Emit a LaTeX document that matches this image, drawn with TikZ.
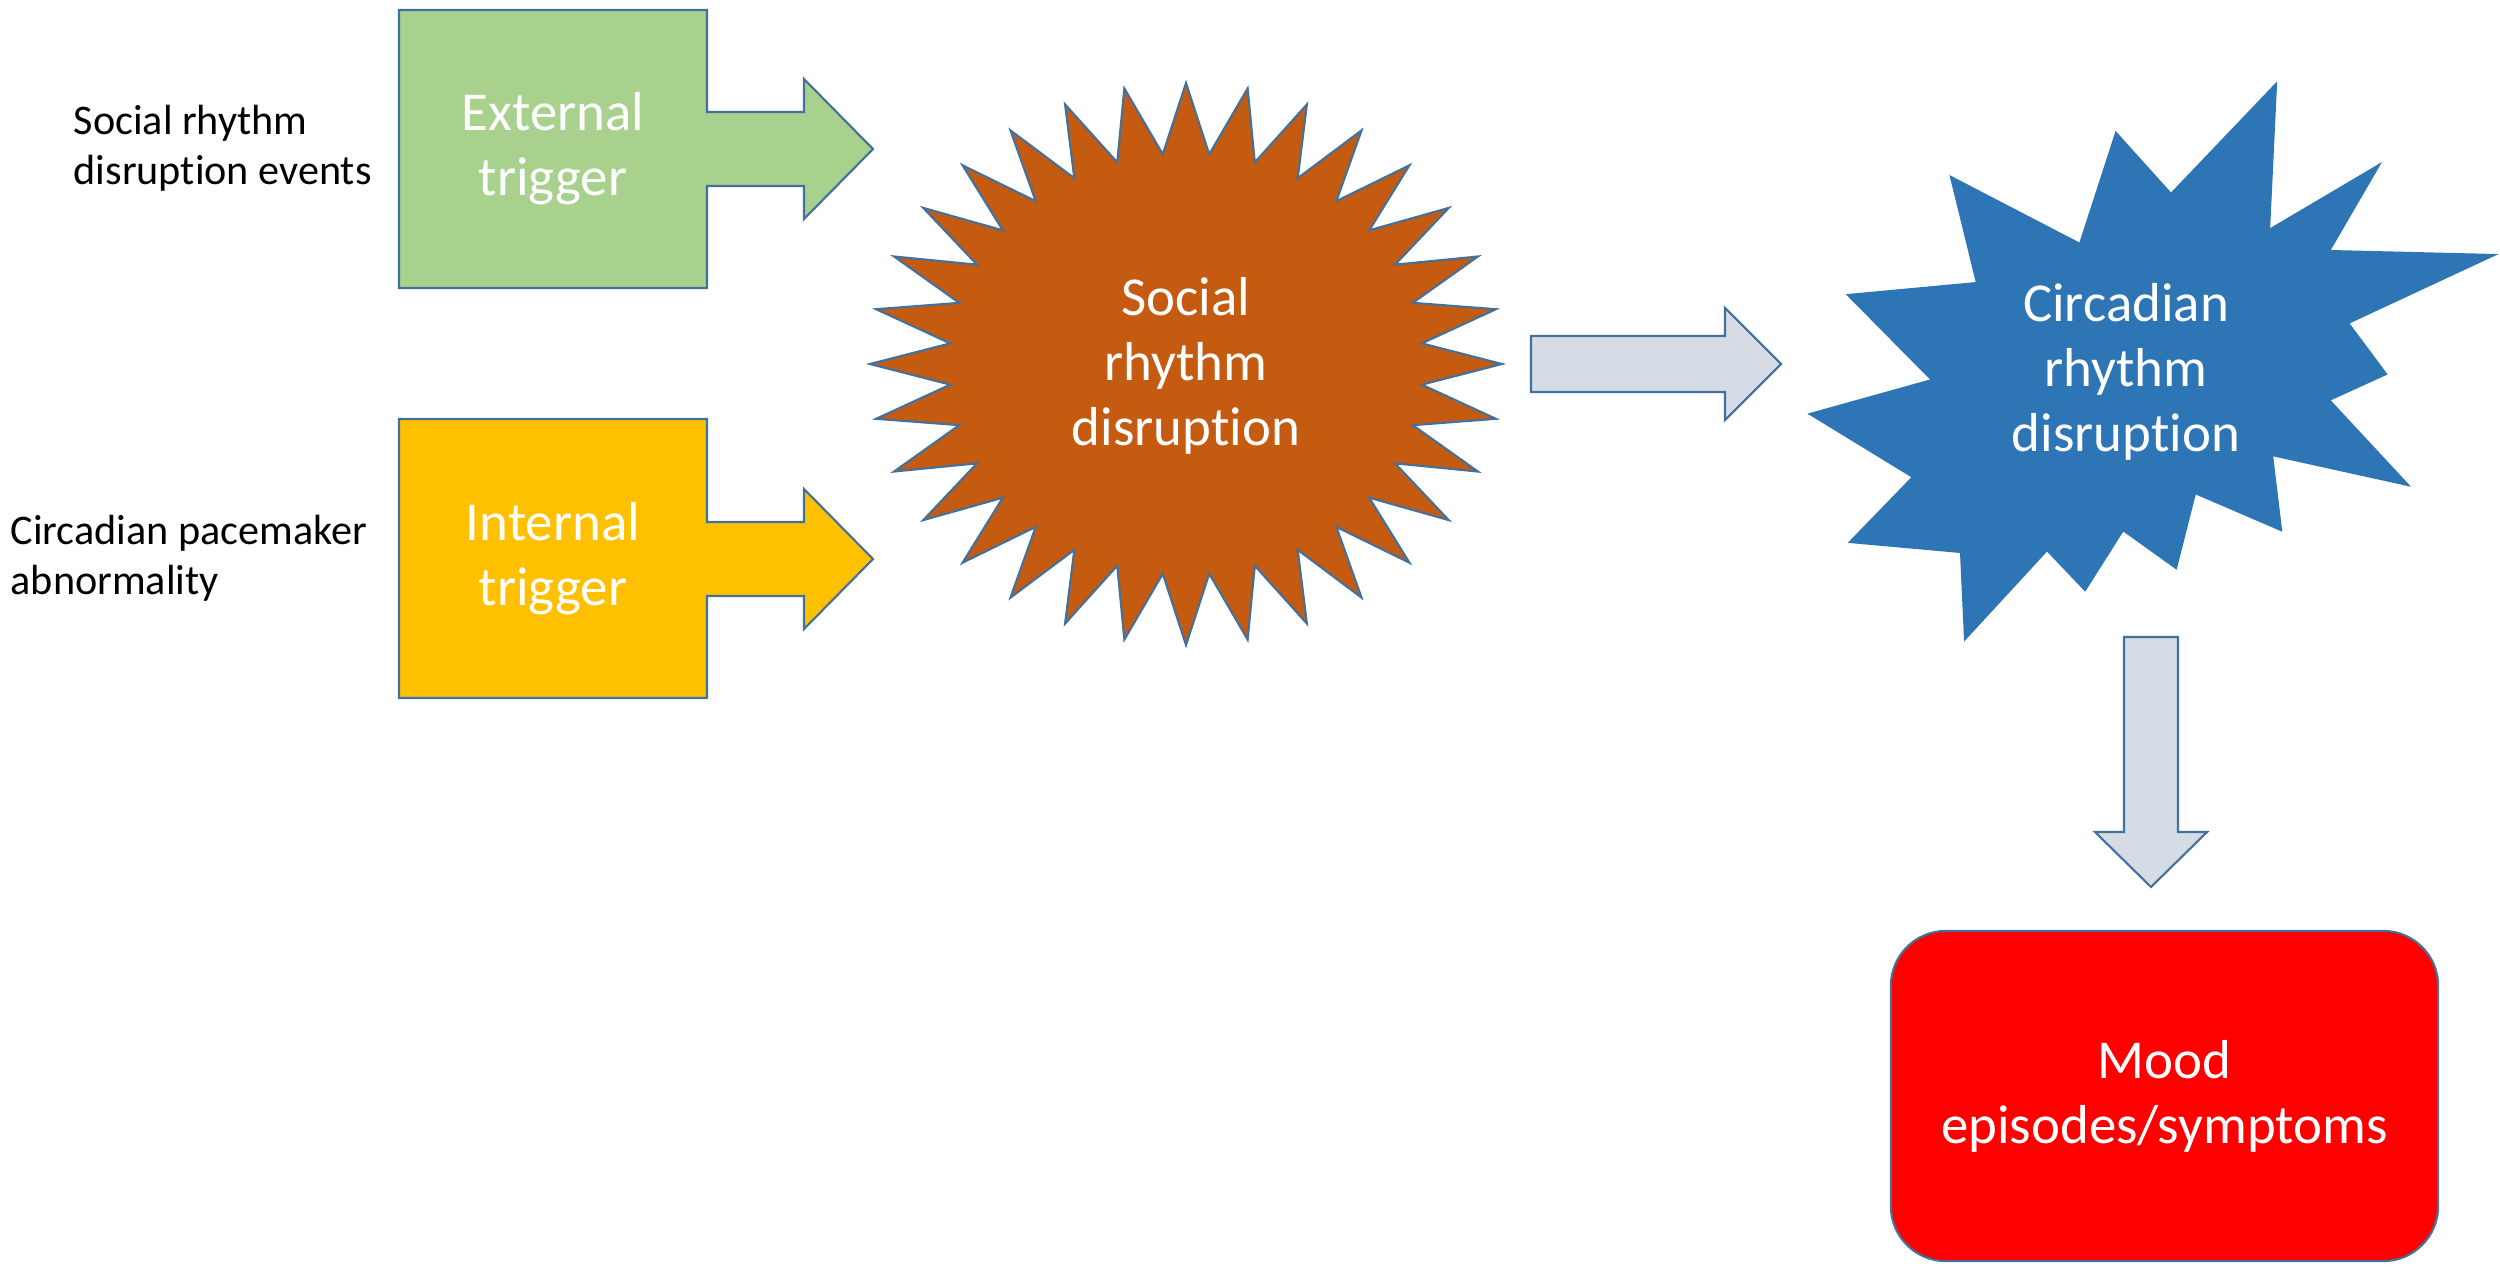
\documentclass[tikz,border=0pt]{standalone}
\usepackage{fontspec}
\setmainfont{Carlito}[Ligatures=NoCommon]
\usepackage[]{xcolor}
\definecolor{edgeblue}{HTML}{41719C}
\definecolor{extgreen}{HTML}{A9D18E}
\definecolor{intyellow}{HTML}{FFC000}
\definecolor{socialbrown}{HTML}{C55A11}
\definecolor{circblue}{HTML}{2E75B6}
\definecolor{moodred}{HTML}{FF0000}
\definecolor{arrowgray}{HTML}{D6DCE5}
\tikzset{shapeline/.style = {draw=edgeblue, line width=0.6pt}}
\tikzset{inlabel/.style = {text=white, align=center, font=\fontsize{15.6}{18.4}\selectfont}}
\tikzset{sidelabel/.style = {text=black, align=left, anchor=west, inner sep=0, font=\fontsize{12}{14.2}\selectfont}}
\tikzset{moodbox/.style = {shapeline, fill=moodred, rounded corners=0.55cm, minimum width=5.47cm, minimum height=3.3cm}}

\begin{document}
\begin{tikzpicture}[x=0.01cm, y=-0.01cm]
        \useasboundingbox (0,0) rectangle (2500,1266);
        % triggers
        \filldraw [shapeline, fill=extgreen] (399,10) -- (707,10) -- (707,112) -- (804,112) -- (804,79) -- (873,149) -- (804,219) -- (804,186) -- (707,186) -- (707,288) -- (399,288) -- cycle;
        \filldraw [shapeline, fill=intyellow] (399,419) -- (707,419) -- (707,522) -- (804,522) -- (804,489) -- (873,559) -- (804,629) -- (804,596) -- (707,596) -- (707,698) -- (399,698) -- cycle;
        \node (ext) [inlabel] at (553,149) {External\\trigger};
        \node (int) [inlabel] at (553,559) {Internal\\trigger};
        \node (extcause) [sidelabel] at (73,148) {Social rhythm\\disruption events};
        \node (intcause) [sidelabel] at (10,558) {Circadian pacemaker\\abnormality};
        % social rhythm disruption
        \filldraw [shapeline, fill=socialbrown] plot [samples at={0,...,63}, variable=\k] ({1186+316*(1-0.25*mod(\k,2))*cos(\k*5.625)}, {364+281*(1-0.25*mod(\k,2))*sin(\k*5.625)}) -- cycle;
        \node (social) [inlabel] at (1186,366) {Social\\rhythm\\disruption};
        % circadian rhythm disruption
        \filldraw [shapeline, draw=circblue, fill=circblue] (2276,84) -- (2269,230) -- (2379,165) -- (2329,251) -- (2494,255) -- (2348,323) -- (2386,374) -- (2329,400) -- (2408,485) -- (2272,455) -- (2281,530) -- (2195,493) -- (2176,568) -- (2123,530) -- (2085,590) -- (2047,550) -- (1965,639) -- (1961,552) -- (1850,542) -- (1913,477) -- (1810,414) -- (1932,380) -- (1848,295) -- (1977,283) -- (1951,177) -- (2080,244) -- (2116,133) -- (2171,194) -- cycle;
        \node (circ) [inlabel] at (2126,372) {Circadian\\rhythm\\disruption};
        % block arrows
        \filldraw [shapeline, fill=arrowgray] (1531,336) -- (1725,336) -- (1725,308) -- (1781,364) -- (1725,420) -- (1725,392) -- (1531,392) -- cycle;
        \filldraw [shapeline, fill=arrowgray] (2124,637) -- (2178,637) -- (2178,832) -- (2207,832) -- (2151,887) -- (2095,832) -- (2124,832) -- cycle;
        % outcome
        \node (mood) [inlabel, moodbox] at (2164.5,1096) {Mood\\episodes/symptoms};
    \end{tikzpicture}
\end{document}
